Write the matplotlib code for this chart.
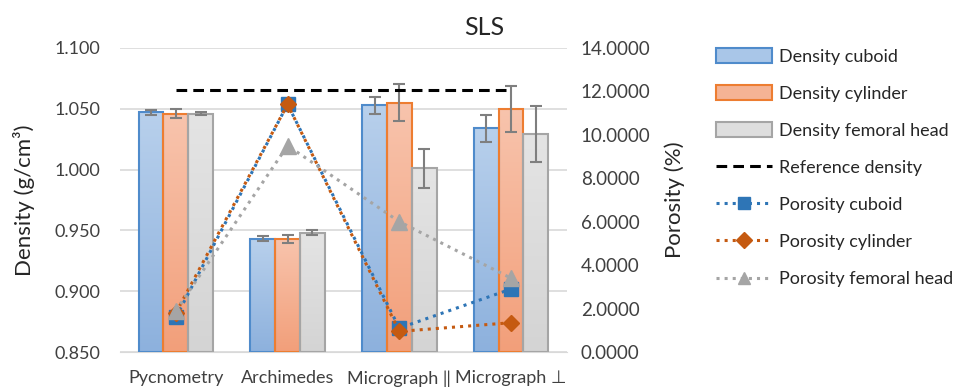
import numpy as np
import matplotlib.pyplot as plt
from matplotlib.patches import Patch
from matplotlib.lines import Line2D

plt.rcParams['font.family'] = ['Lato', 'DejaVu Sans']

categories = ['Pycnometry', 'Archimedes', 'Micrograph ‖', 'Micrograph ⊥']

density_cuboid = [1.047, 0.943, 1.053, 1.034]
density_cuboid_err = [0.002, 0.002, 0.007, 0.011]
density_cylinder = [1.046, 0.943, 1.055, 1.050]
density_cylinder_err = [0.004, 0.003, 0.015, 0.019]
density_femoral = [1.046, 0.948, 1.001, 1.029]
density_femoral_err = [0.001, 0.002, 0.016, 0.023]
reference_density = [1.065, 1.065, 1.065, 1.065]

porosity_cuboid = [1.6, 11.4, 1.1, 2.9]
porosity_cylinder = [1.8, 11.4, 0.95, 1.35]
porosity_femoral = [1.9, 9.5, 6.0, 3.4]

fig = plt.figure(figsize=(9.56, 3.89), dpi=100)
ax = fig.add_axes([0.1255, 0.095, 0.4675, 0.782])
ax2 = ax.twinx()

x = np.arange(len(categories))
w = 0.222
ymin, ymax = 0.850, 1.100

bar_styles = [
    (density_cuboid, density_cuboid_err, '#b8d0ec', '#8db1dd', '#4f8bcb'),
    (density_cylinder, density_cylinder_err, '#f8c4ad', '#f29f7a', '#ed7d31'),
    (density_femoral, density_femoral_err, '#e4e4e4', '#d4d4d4', '#a5a5a5'),
]

for i, (vals, errs, c_top, c_bot, edge) in enumerate(bar_styles):
    pos = x + (i - 1) * w
    bars = ax.bar(pos, np.array(vals) - ymin, w, bottom=ymin, color='none',
                  edgecolor=edge, linewidth=1.5, zorder=3)
    # vertical gradient fill clipped to each bar
    grad = np.linspace(0, 1, 100).reshape(-1, 1)
    cmap = plt.matplotlib.colors.LinearSegmentedColormap.from_list('g', [c_bot, c_top])
    for b in bars:
        x0, y0 = b.get_x(), b.get_y()
        im = ax.imshow(grad, cmap=cmap, aspect='auto', origin='lower',
                       extent=[x0, x0 + b.get_width(), y0, y0 + b.get_height()], zorder=2)
        im.set_clip_path(b)
    ax.errorbar(pos, vals, yerr=errs, fmt='none', ecolor='#7f7f7f', elinewidth=1.5,
                capsize=4, capthick=1.5, zorder=4)

ax.plot(x, reference_density, color='black', linestyle=(0, (3.5, 2)), linewidth=2.2, zorder=5)

ax.set_xlim(-0.5, 3.5)
ax.set_ylim(ymin, ymax)
ax.set_yticks(np.arange(0.850, 1.1001, 0.050))
ax.set_yticklabels([f'{v:.3f}' for v in np.arange(0.850, 1.1001, 0.050)])
ax.set_xticks(x)
ax.set_xticklabels(categories)
ax.grid(axis='y', color='#d9d9d9', linewidth=1.2, zorder=0)
ax.set_axisbelow(True)
ax.tick_params(axis='both', length=0, labelsize=13, colors='#404040')
ax.tick_params(axis='x', pad=13)
ax.tick_params(axis='y', pad=14)
for s in ['top', 'left', 'right']:
    ax.spines[s].set_visible(False)
ax.spines['bottom'].set_color('#d9d9d9')
ax.set_ylabel('Density (g/cm³)', fontsize=16, color='#262626', labelpad=14)

# porosity series on the secondary axis
ax2.plot(x, porosity_cuboid, color='#2e75b6', linestyle=':', linewidth=2.2,
         marker='s', markersize=10, zorder=6)
ax2.plot(x, porosity_cylinder, color='#c55a11', linestyle=':', linewidth=2.2,
         marker='D', markersize=8.5, zorder=6)
ax2.plot(x, porosity_femoral, color='#a5a5a5', linestyle=':', linewidth=2.2,
         marker='^', markersize=11, zorder=6)
ax2.set_ylim(0, 14)
ax2.set_yticks(np.arange(0, 14.01, 2))
ax2.set_yticklabels([f'{v:.4f}' for v in np.arange(0, 14.01, 2)])
ax2.tick_params(axis='y', length=0, labelsize=13.5, colors='#404040', pad=10)
for s in ax2.spines.values():
    s.set_visible(False)
ax2.set_ylabel('Porosity (%)', fontsize=16, color='#262626', labelpad=10)

fig.suptitle('SLS', x=0.507, y=0.96, fontsize=18, color='#262626')

handles = [
    Patch(facecolor='#a9c6e8', edgecolor='#4f8bcb', linewidth=1.5),
    Patch(facecolor='#f5b394', edgecolor='#ed7d31', linewidth=1.5),
    Patch(facecolor='#dedede', edgecolor='#a5a5a5', linewidth=1.5),
    Line2D([], [], color='black', linestyle=(0, (3.5, 2)), linewidth=2.2),
    Line2D([], [], color='#2e75b6', linestyle=':', linewidth=2.2, marker='s', markersize=9),
    Line2D([], [], color='#c55a11', linestyle=':', linewidth=2.2, marker='D', markersize=8),
    Line2D([], [], color='#a5a5a5', linestyle=':', linewidth=2.2, marker='^', markersize=9),
]
labels = ['Density cuboid', 'Density cylinder', 'Density femoral head', 'Reference density',
          'Porosity cuboid', 'Porosity cylinder', 'Porosity femoral head']
fig.legend(handles, labels, loc='upper left', bbox_to_anchor=(0.74, 0.9), frameon=False,
           fontsize=13, handlelength=3.1, handleheight=0.9, labelspacing=1.13,
           handletextpad=0.35, borderpad=0, labelcolor='#262626')

fig.savefig('out.png', dpi=100)
